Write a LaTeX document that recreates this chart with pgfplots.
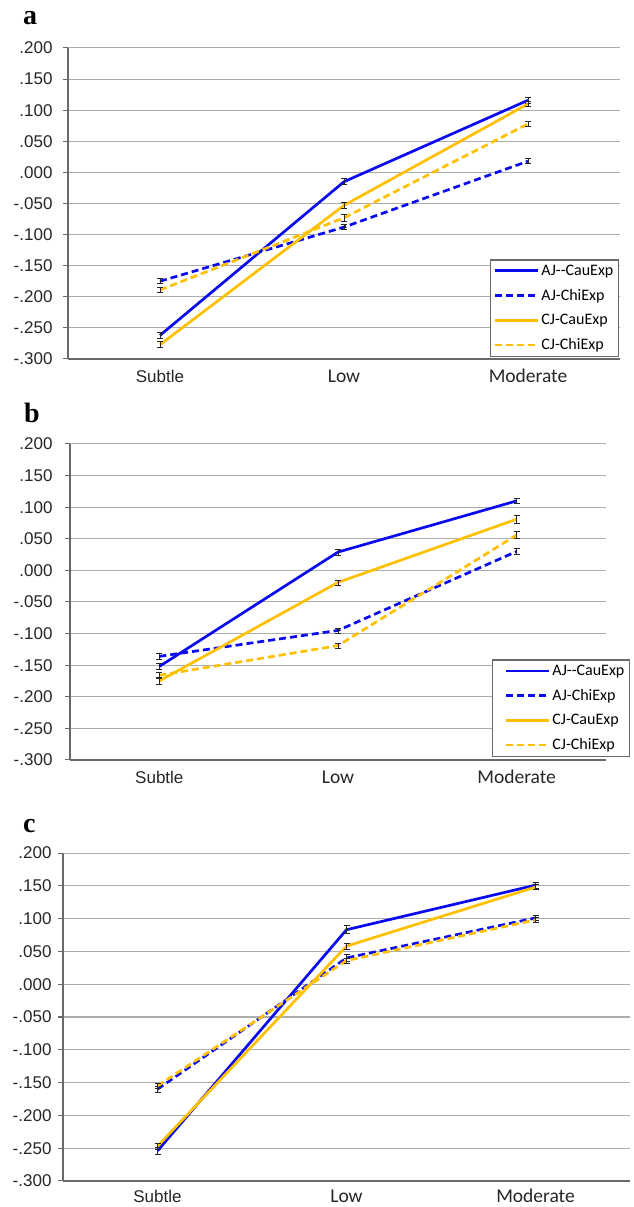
\documentclass[border=0pt]{standalone}
\usepackage{pgfplots}
\pgfplotsset{compat=1.18}
\usepackage{fontspec}
\setmainfont{Liberation Sans}
\newfontfamily\legfont{Carlito}
\newfontfamily\panelfont{Liberation Serif}
\definecolor{xblue}{RGB}{10,10,240}
\definecolor{xorange}{RGB}{255,192,0}
\definecolor{gridgray}{RGB}{172,172,172}
\definecolor{axgray}{RGB}{105,105,105}
\tikzset{zt/.style={gridgray, line width=1pt}}
\newcommand{\cat}[1]{{\legfont\fontsize{19.5}{22}\selectfont #1}}
\pgfplotsset{
  panel/.style={
    scale only axis, anchor=south west,
    xmin=-0.5, xmax=2.5, ymin=-0.3, ymax=0.2,
    axis x line*=bottom, axis y line*=left,
    axis line style={draw=axgray, line width=1.3pt},
    xtick={0,1,2}, xticklabels={Subtle,\cat{Low},\cat{Moderate}},
    ytick={-0.3,-0.25,-0.2,-0.15,-0.1,-0.05,0,0.05,0.1,0.15,0.2},
    yticklabels={-.300,-.250,-.200,-.150,-.100,-.050,.000,.050,.100,.150,.200},
    x tick style={draw=none},
    y tick style={draw=axgray, line width=1pt},
    tick align=outside, major tick length=5pt,
    ymajorgrids, grid style={draw=gridgray, line width=1pt},
    tick label style={font=\fontsize{17}{19}\selectfont, text=black!85},
    xticklabel style={inner ysep=1pt, yshift=-4.5pt, text height=13pt, text depth=1pt},
    legend style={font=\legfont\fontsize{16}{19}\selectfont, draw=axgray, line width=1.2pt,
      cells={anchor=west}, inner xsep=3pt, inner ysep=3pt, row sep=8.5pt,
      nodes={inner sep=2pt}},
    legend image code/.code={\draw[##1] (0pt,0pt) -- (43pt,0pt);},
  },
  ebar/.style={error bars/.cd, y dir=both, y explicit,
    error bar style={black!85, line width=0.7pt, solid},
    error mark options={black!85, line width=0.7pt, mark size=3pt, solid, rotate=90}},
  s1/.style={xblue, line width=2.7pt, line join=round, ebar},
  s2/.style={xblue, line width=2.7pt, line join=round, dash pattern=on 7pt off 4pt, ebar},
  s3/.style={xorange, line width=2.7pt, line join=round, ebar},
  s4/.style={xorange, line width=2.7pt, line join=round, dash pattern=on 7pt off 4pt, ebar},
}
\begin{document}
\begin{tikzpicture}
\useasboundingbox (0,0) rectangle (633pt,1207pt);
\node[anchor=base west, inner sep=0pt, font=\panelfont\bfseries\fontsize{28}{30}\selectfont] at (23pt,1182pt) {a};
\node[anchor=base west, inner sep=0pt, font=\panelfont\bfseries\fontsize{28}{30}\selectfont] at (24pt,784pt) {b};
\node[anchor=base west, inner sep=0pt, font=\panelfont\bfseries\fontsize{28}{30}\selectfont] at (23pt,374pt) {c};
% ---------------- panel a
\begin{axis}[panel, at={(68pt,848pt)}, width=552pt, height=311pt,
  yticklabel style={xshift=-7pt},
  legend style={at={(axis cs:2.5,-0.3)}, anchor=south east, xshift=-1pt, yshift=2pt}]
\draw[zt] (axis cs:0,0) ++(0,-4pt) -- ++(0,8pt);
\draw[zt] (axis cs:1,0) ++(0,-4pt) -- ++(0,8pt);
\draw[zt] (axis cs:2,0) ++(0,-4pt) -- ++(0,8pt);
\draw[zt] (axis cs:2.5,0) ++(0,-4pt) -- ++(0,8pt);
\addplot[s1] table[y error=e] {
x y e
0 -0.262 0.005
1 -0.015 0.005
2 0.116 0.005
};
\addlegendentry{AJ--CauExp}
\addplot[s2] table[y error=e] {
x y e
0 -0.175 0.004
1 -0.088 0.004
2 0.018 0.004
};
\addlegendentry{AJ-ChiExp}
\addplot[s3] table[y error=e] {
x y e
0 -0.277 0.005
1 -0.053 0.005
2 0.110 0.004
};
\addlegendentry{CJ-CauExp}
\addplot[s4] table[y error=e] {
x y e
0 -0.189 0.004
1 -0.073 0.005
2 0.078 0.004
};
\addlegendentry{CJ-ChiExp}
\end{axis}
% ---------------- panel b
\begin{axis}[panel, at={(70pt,447pt)}, width=536pt, height=316pt,
  yticklabel style={xshift=-9pt},
  legend image code/.code={\path (0pt,0pt); \draw[#1] (9pt,0pt) -- (52pt,0pt);},
  legend style={at={(axis cs:2.5,-0.3)}, anchor=south east, xshift=24pt, yshift=3pt}]
\draw[zt] (axis cs:0.5,0) ++(0,-4pt) -- ++(0,8pt);
\draw[zt] (axis cs:1.5,0) ++(0,-4pt) -- ++(0,8pt);
\draw[zt] (axis cs:2.5,0) ++(0,-4pt) -- ++(0,8pt);
\addplot[s1] table[y error=e] {
x y e
0 -0.152 0.005
1 0.029 0.005
2 0.110 0.004
};
\addlegendentry{AJ--CauExp\hspace{7pt}}
\addplot[s2] table[y error=e] {
x y e
0 -0.136 0.004
1 -0.095 0.004
2 0.030 0.005
};
\addlegendentry{AJ-ChiExp}
\addplot[s3] table[y error=e] {
x y e
0 -0.175 0.005
1 -0.019 0.004
2 0.081 0.006
};
\addlegendentry{CJ-CauExp}
\addplot[s4] table[y error=e] {
x y e
0 -0.166 0.005
1 -0.119 0.004
2 0.056 0.006
};
\addlegendentry{CJ-ChiExp}
\end{axis}
% ---------------- panel c
\begin{axis}[panel, at={(63pt,26pt)}, width=567pt, height=328pt,
  yticklabel style={xshift=-3pt}, xticklabel style={yshift=2.5pt}]
\draw[zt] (axis cs:0,0) ++(0,-4pt) -- ++(0,8pt);
\draw[zt] (axis cs:0.5,0) ++(0,-4pt) -- ++(0,8pt);
\draw[zt] (axis cs:1,0) ++(0,-4pt) -- ++(0,8pt);
\draw[zt] (axis cs:1.5,0) ++(0,-4pt) -- ++(0,8pt);
\draw[zt] (axis cs:2,0) ++(0,-4pt) -- ++(0,8pt);
\draw[zt] (axis cs:2.5,0) ++(0,-4pt) -- ++(0,8pt);
\addplot[s1] table[y error=e] {
x y e
0 -0.254 0.006
1 0.083 0.006
2 0.151 0.005
};
\addplot[s2] table[y error=e] {
x y e
0 -0.160 0.005
1 0.040 0.005
2 0.101 0.004
};
\addplot[s3] table[y error=e] {
x y e
0 -0.247 0.005
1 0.058 0.005
2 0.148 0.004
};
\addplot[s4] table[y error=e] {
x y e
0 -0.155 0.004
1 0.036 0.004
2 0.098 0.004
};
\end{axis}
\end{tikzpicture}
\end{document}
